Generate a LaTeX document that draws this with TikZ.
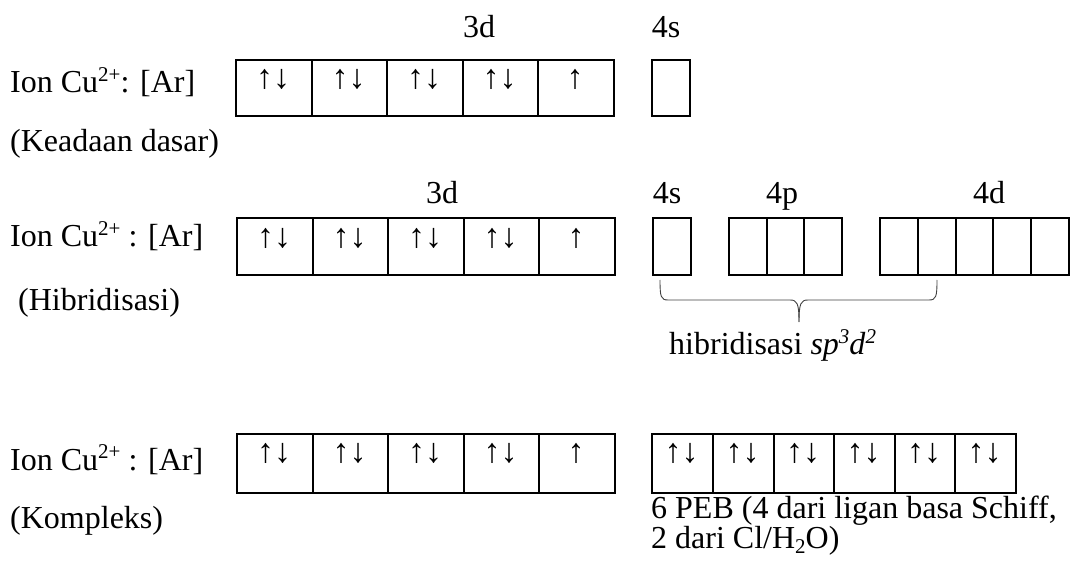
\documentclass[tikz,border=0pt]{standalone}
\usepackage{fontspec}
\setmainfont{Liberation Serif}
\newcommand{\mysup}[1]{\raisebox{0.36em}{\fontsize{21}{21}\selectfont #1}}
\newcommand{\mysub}[1]{\raisebox{-0.17em}{\fontsize{21}{21}\selectfont #1}}
\begin{document}
\begin{tikzpicture}[x=1pt,y=-1pt,
  txt/.style={inner sep=0pt, font=\fontsize{32}{38}\selectfont},
  lbl/.style={txt, anchor=base west},
  orb/.style={txt, anchor=base},
  cell/.style={draw, line width=1.8pt, inner sep=0pt, anchor=north west},
  spin/.style={inner sep=0pt, anchor=center, font=\fontsize{34}{36}\selectfont},
  brace/.style={draw=black!75, line width=0.9pt}]
\useasboundingbox (0,0) rectangle (1071,561);

% ---------- Row 1 : ground state ----------
\node[lbl] (l1a) at (10,93) {Ion Cu\mysup{2+}: [Ar]};
\node[lbl] (l1b) at (10,152) {(Keadaan dasar)};
\node[orb] (o1d) at (479,38) {3d};
\node[orb] (o1s) at (666,38) {4s};
\foreach \i/\x/\w/\s in {0/235/76/↑↓,1/311/75/↑↓,2/386/76/↑↓,3/462/75/↑↓,4/537/76/↑} {
  \node[cell, minimum width=\w pt, minimum height=56pt] (a\i) at (\x,59) {};
  \node[spin] (as\i) at (\x+\w/2,79.5) {\s};
}
\node[cell, minimum width=38pt, minimum height=56pt] (a5) at (651,59) {};

% ---------- Row 2 : hybridisation ----------
\node[lbl] (l2a) at (10,247) {Ion Cu\mysup{2+} : [Ar]};
\node[lbl] (l2b) at (18,311) {(Hibridisasi)};
\node[orb] (o2d) at (442,204) {3d};
\node[orb] (o2s) at (667,204) {4s};
\node[orb] (o2p) at (782,204) {4p};
\node[orb] (o2dd) at (989,204) {4d};
\foreach \i/\x/\w/\s in {0/236/76/↑↓,1/312/75/↑↓,2/387/76/↑↓,3/463/75/↑↓,4/538/76/↑} {
  \node[cell, minimum width=\w pt, minimum height=57pt] (b\i) at (\x,217) {};
  \node[spin] (bs\i) at (\x+\w/2,238) {\s};
}
\node[cell, minimum width=38pt, minimum height=57pt] (bs) at (652,217) {};
\foreach \i/\x/\w in {0/728/38,1/766/37,2/803/38} {
  \node[cell, minimum width=\w pt, minimum height=57pt] (bp\i) at (\x,217) {};
}
\foreach \i/\x/\w in {0/879/38,1/917/38,2/955/37,3/992/38,4/1030/38} {
  \node[cell, minimum width=\w pt, minimum height=57pt] (bd\i) at (\x,217) {};
}
% brace
\draw[brace] (660,280) .. controls (660,297) and (661,300) .. (668,300) -- (790,300)
  .. controls (797,300) and (799,303) .. (799,322);
\draw[brace] (937,280) .. controls (937,297) and (936,300) .. (929,300) -- (808,300)
  .. controls (801,300) and (799,303) .. (799,322);
\node[lbl] (hyb) at (669,355) {hibridisasi \textit{sp}\mysup{\textit{3}}\textit{d}\mysup{\textit{2}}};

% ---------- Row 3 : complex ----------
\node[lbl] (l3a) at (10,470) {Ion Cu\mysup{2+} : [Ar]};
\node[lbl] (l3b) at (10,528) {(Kompleks)};
\foreach \i/\x/\w/\s in {0/236/76/↑↓,1/312/75/↑↓,2/387/76/↑↓,3/463/75/↑↓,4/538/76/↑} {
  \node[cell, minimum width=\w pt, minimum height=59pt] (c\i) at (\x,433) {};
  \node[spin] (cs\i) at (\x+\w/2,453) {\s};
}
\foreach \i/\x/\w in {0/651/61,1/712/61,2/773/60,3/833/61,4/894/60,5/954/61} {
  \node[cell, minimum width=\w pt, minimum height=59pt] (d\i) at (\x,433) {};
  \node[spin] (ds\i) at (\x+\w/2,453) {↑↓};
}
\node[lbl] (peb1) at (651,518) {6 PEB (4 dari ligan basa Schiff,};
\node[lbl] (peb2) at (651,548) {2 dari Cl/H\mysub{2}O)};
\end{tikzpicture}
\end{document}
